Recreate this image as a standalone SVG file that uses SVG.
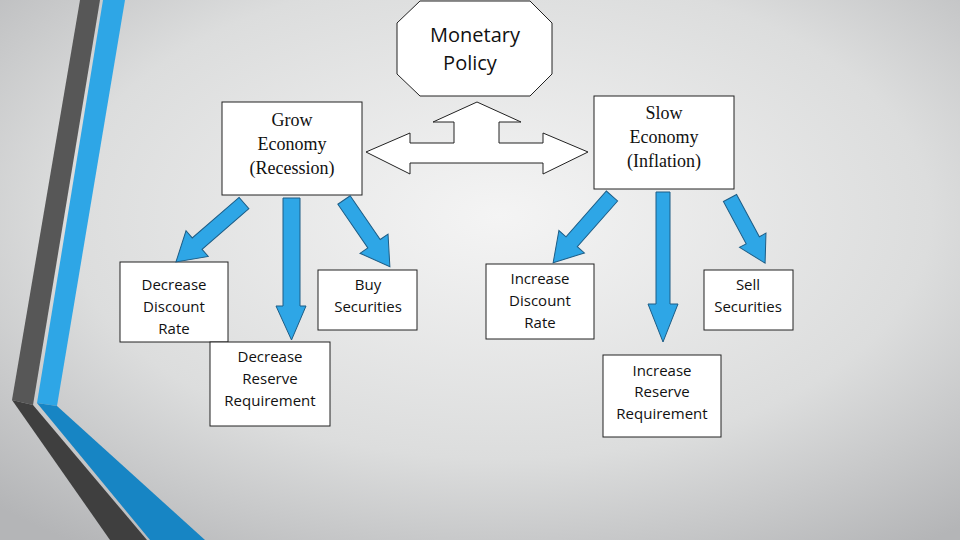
<svg xmlns="http://www.w3.org/2000/svg" width="960" height="540" viewBox="0 0 960 540">
<defs>
<radialGradient id="bg" cx="0.52" cy="0.4" r="0.75">
<stop offset="0" stop-color="#f4f4f4"/><stop offset="0.6" stop-color="#dcdddd"/><stop offset="1" stop-color="#b4b5b7"/>
</radialGradient>
</defs>
<style>
.box{fill:#fff;stroke:#222;stroke-width:1}
.s{font-family:"Open Sans","DejaVu Sans",sans-serif;font-size:15px;fill:#111;text-anchor:middle}
.r{font-family:"Liberation Serif",serif;font-size:18px;fill:#111;text-anchor:middle}
.m{font-family:"Open Sans","DejaVu Sans",sans-serif;font-size:20px;fill:#111;text-anchor:middle}
.ba{fill:#2ea6e6;stroke:#1d5d86;stroke-width:1}
</style>
<rect width="960" height="540" fill="url(#bg)"/>
<polygon points="80,0 100,0 33,405 12,400" fill="#575757"/>
<polygon points="12,400 33,405 147,540 110,540" fill="#3f3f3f"/>
<polygon points="103,0 125,0 57,406 37,403" fill="#2ea6e6"/>
<polygon points="37,403 57,406 205,540 150,540" fill="#1785c4"/>
<g id="monetary"><polygon class="box" points="420,1 530,1 552,23 552,74 530,96 420,96 397,74 397,23"/>
<text class="m" x="475" y="42">Monetary</text><text class="m" x="470" y="70">Policy</text></g>
<g id="grow"><rect class="box" x="222" y="102" width="140" height="93"/>
<text class="r" x="292" y="126">Grow</text><text class="r" x="292" y="150">Economy</text><text class="r" x="292" y="174">(Recession)</text></g>
<g id="slow"><rect class="box" x="594" y="96" width="140" height="93"/>
<text class="r" x="664" y="119">Slow</text><text class="r" x="664" y="143">Economy</text><text class="r" x="664" y="167">(Inflation)</text></g>
<g id="ddr"><rect class="box" x="120" y="262" width="108" height="80"/>
<text class="s" x="174" y="290">Decrease</text><text class="s" x="174" y="312">Discount</text><text class="s" x="174" y="334">Rate</text></g>
<g id="drr"><rect class="box" x="210" y="342" width="120" height="84"/>
<text class="s" x="270" y="362">Decrease</text><text class="s" x="270" y="384">Reserve</text><text class="s" x="270" y="406">Requirement</text></g>
<g id="buy"><rect class="box" x="318" y="270" width="99" height="60"/>
<text class="s" x="368" y="290">Buy</text><text class="s" x="368" y="312">Securities</text></g>
<g id="idr"><rect class="box" x="486" y="264" width="108" height="75"/>
<text class="s" x="540" y="284">Increase</text><text class="s" x="540" y="306">Discount</text><text class="s" x="540" y="328">Rate</text></g>
<g id="sell"><rect class="box" x="704" y="270" width="89" height="60"/>
<text class="s" x="748" y="290">Sell</text><text class="s" x="748" y="312">Securities</text></g>
<g id="irr"><rect class="box" x="603" y="355" width="118" height="82"/>
<text class="s" x="662" y="376">Increase</text><text class="s" x="662" y="397">Reserve</text><text class="s" x="662" y="419">Requirement</text></g>
<g id="connectors">
<path d="M366,152 L410,133 L410,143 L454,143 L454,122 L433,122 L477,102 L521,122 L499,122 L499,143 L543,143 L543,133 L588,152 L543,174 L543,163 L410,163 L410,174 Z" fill="#fff" stroke="#222" stroke-width="1"/>
<polygon class="ba" transform="translate(244,203) rotate(139.1)" points="0,-7.5 62,-7.5 62,-17 90,0 62,17 62,7.5 0,7.5"/>
<polygon class="ba" points="283,198 300,198 300,306 306,306 291.5,340 276,306 283,306"/>
<polygon class="ba" transform="translate(344,200) rotate(55.5)" points="0,-7.5 53,-7.5 53,-17 81,0 53,17 53,7.5 0,7.5"/>
<polygon class="ba" transform="translate(612,196) rotate(131.4)" points="0,-7.5 61,-7.5 61,-17 89,0 61,17 61,7.5 0,7.5"/>
<polygon class="ba" points="656,192 670,192 670,304 678,304 663,342 648,304 656,304"/>
<polygon class="ba" transform="translate(730,198) rotate(61.7)" points="0,-7.5 48,-7.5 48,-15 74,0 48,15 48,7.5 0,7.5"/>
</g>
</svg>
